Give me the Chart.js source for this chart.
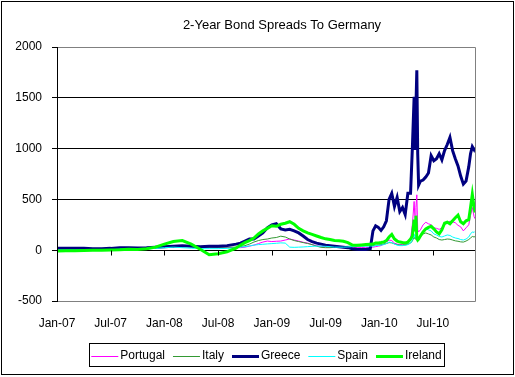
<!DOCTYPE html>
<html>
<head>
<meta charset="utf-8">
<script src="https://cdn.jsdelivr.net/npm/chart.js@4/dist/chart.umd.min.js"></script>
<style>
  html, body { margin: 0; padding: 0; background: #fff; }
  #wrap { width: 515px; height: 377px; }
</style>
</head>
<body>
<div id="wrap"><canvas id="spreads" width="515" height="377"></canvas></div>
<script>
// months since Jan-2007 (0 = Jan-07)
const months = [
  0, 1, 2, 3, 4, 5, 6, 7, 8, 9, 10, 11, 12, 13, 14, 15, 16, 17, 18, 19, 20,
  20.5, 21, 21.5, 22, 22.5, 23, 23.5, 24, 24.5, 25, 25.5, 26, 26.5, 27, 27.5,
  28, 28.5, 29, 29.5, 30, 30.5, 31, 31.5, 32, 32.5, 33, 33.5, 34, 34.5, 35,
  35.3, 35.6, 35.9, 36.2, 36.5, 36.8, 37.1, 37.4, 37.7, 38.0, 38.3, 38.6, 38.9,
  39.2, 39.5, 39.7, 39.9, 40.0, 40.1, 40.2, 40.3, 40.4, 40.6, 40.9, 41.2, 41.5,
  41.8, 42.1, 42.4, 42.7, 43.0, 43.3, 43.6, 43.9, 44.2, 44.5, 44.8, 45.1, 45.4,
  45.7, 46.0, 46.2, 46.4, 46.6, 46.7
];

// spreads in basis points
const portugal = [
  5, 5, 5, 4, 4, 5, 8, 12, 15, 15, 18, 25, 35, 40, 38, 35, 30, 32, 30, 28, 25,
  25, 30, 40, 50, 65, 80, 90, 85, 88, 90, 100, 110, 100, 90, 78,
  70, 55, 45, 38, 32, 30, 28, 28, 27, 26, 25, 25, 26, 28, 28,
  30, 35, 40, 45, 60, 80, 100, 95, 70, 60, 55, 55, 60,
  70, 110, 250, 480, 300, 420, 545, 200, 180, 200, 250, 275, 260,
  250, 220, 215, 205, 220, 250, 270, 285, 280, 270, 245, 230, 190,
  220, 250, 340, 420, 330, 310
];
const italy = [
  8, 8, 8, 8, 7, 8, 10, 15, 18, 18, 20, 25, 35, 40, 40, 35, 30, 30, 28, 30, 30,
  35, 45, 60, 80, 95, 105, 110, 120, 125, 138, 130, 110, 95, 85, 75,
  66, 55, 40, 28, 25, 25, 28, 30, 35, 38, 40, 40, 42, 44, 45,
  45, 50, 52, 55, 60, 65, 75, 72, 62, 55, 50, 50, 52,
  58, 70, 90, 130, 110, 125, 100, 90, 100, 130, 160, 170, 160,
  150, 130, 120, 105, 100, 105, 110, 108, 100, 92, 88, 82, 80,
  90, 105, 120, 135, 130, 135
];
const greece = [
  20, 20, 18, 18, 15, 15, 18, 25, 25, 22, 25, 30, 35, 40, 45, 40, 35, 40, 40, 45, 60,
  70, 90, 110, 110, 140, 170, 220, 250, 260, 210, 200, 205, 190, 170, 140,
  105, 85, 70, 60, 50, 45, 40, 35, 30, 25, 15, 10, 8, 8, 15,
  190, 240, 225, 195, 230, 290, 500, 560, 430, 520, 380, 420, 350,
  560, 560, 1000, 1510, 1000, 1400, 1770, 950, 640, 680, 690, 720, 760,
  930, 880, 900, 950, 890, 980, 1040, 1110, 980, 900, 830, 730, 650,
  680, 820, 950, 1020, 990, 1010
];
const spain = [
  2, 2, 2, 2, 2, 2, 5, 10, 10, 8, 12, 18, 25, 30, 25, 20, 15, 15, 15, 18, 22,
  30, 35, 42, 50, 55, 58, 62, 65, 68, 72, 70, 30, 28, 30, 32,
  35, 38, 40, 40, 38, 35, 30, 30, 30, 32, 35, 38, 40, 40, 42,
  40, 45, 48, 50, 55, 65, 80, 75, 60, 50, 45, 45, 48,
  55, 70, 100, 160, 120, 150, 110, 95, 110, 150, 190, 210, 200,
  190, 160, 150, 135, 130, 140, 150, 145, 130, 120, 115, 105, 100,
  110, 130, 160, 180, 175, 185
];
const ireland = [
  -8, -5, -5, -3, 0, 0, 2, 5, 10, 8, 15, 30, 60, 85, 95, 60, 10, -45, -35, -15, 20,
  50, 75, 95, 120, 160, 190, 215, 240, 235, 255, 265, 280, 255, 215, 190,
  170, 155, 140, 125, 112, 105, 95, 92, 88, 75, 50, 48, 52, 55, 58,
  60, 70, 72, 75, 80, 95, 130, 155, 110, 90, 80, 75, 72,
  80, 110, 140, 300, 200, 340, 120, 100, 110, 140, 180, 210, 225,
  235, 210, 180, 160, 200, 265, 275, 260, 290, 320, 345, 280, 260,
  290, 300, 420, 550, 420, 370
];

const seriesNames = ["Portugal", "Italy", "Greece", "Spain", "Ireland"];
const seriesColors = ["#ff00ff", "#339933", "#000080", "#00ffff", "#00ff00"];
const seriesWidths = [1, 1, 3, 1, 3];
const seriesValues = [portugal, italy, greece, spain, ireland];

const tickMonths = [0, 6, 12, 18, 24, 30, 36, 42];
const tickLabels = ["Jan-07", "Jul-07", "Jan-08", "Jul-08", "Jan-09", "Jul-09", "Jan-10", "Jul-10"];
const yTicks = [-500, 0, 500, 1000, 1500, 2000];

const FONT = "'Liberation Sans', Arial, sans-serif";

// excel-ish frame, title, zero-line ticks and boxed legend
const excelLook = {
  id: "excelLook",
  beforeDraw(chart) {
    const c = chart.ctx;
    c.save();
    c.fillStyle = "#fff";
    c.fillRect(0, 0, chart.width, chart.height);
    c.restore();
  },
  afterDraw(chart) {
    const c = chart.ctx;
    const a = chart.chartArea;
    const xs = chart.scales.x;
    const ys = chart.scales.y;
    c.save();

    // plot area border
    c.lineWidth = 1;
    c.strokeStyle = "#808080";
    c.beginPath();
    c.moveTo(a.left, a.top + 0.5);
    c.lineTo(a.right + 0.5, a.top + 0.5);
    c.lineTo(a.right + 0.5, a.bottom + 0.5);
    c.lineTo(a.left, a.bottom + 0.5);
    c.stroke();
    c.strokeStyle = "#000";
    c.beginPath();
    c.moveTo(a.left + 0.5, a.top);
    c.lineTo(a.left + 0.5, a.bottom + 1);
    c.stroke();

    // category ticks hang from the zero line
    const y0 = Math.round(ys.getPixelForValue(0)) + 0.5;
    c.beginPath();
    tickMonths.forEach((m) => {
      const px = Math.round(xs.getPixelForValue(m)) + 0.5;
      c.moveTo(px, y0);
      c.lineTo(px, y0 + 5);
    });
    c.stroke();

    // title
    c.fillStyle = "#000";
    c.font = "13px " + FONT;
    c.textAlign = "center";
    c.textBaseline = "middle";
    c.fillText("2-Year Bond Spreads To Germany", 282, 25);

    // legend
    const box = { left: 89, top: 343, right: 444, bottom: 366 };
    c.strokeStyle = "#000";
    c.strokeRect(box.left + 0.5, box.top + 0.5, box.right - box.left, box.bottom - box.top);
    c.font = "12px " + FONT;
    c.textAlign = "left";
    const lineLen = 27, gapText = 2, gapItem = 8;
    let total = 0;
    seriesNames.forEach((n, i) => {
      total += lineLen + gapText + c.measureText(n).width + (i < seriesNames.length - 1 ? gapItem : 0);
    });
    let x = (box.left + box.right) / 2 - total / 2;
    const ly = (box.top + box.bottom) / 2 + 1;
    seriesNames.forEach((n, i) => {
      c.strokeStyle = seriesColors[i];
      c.lineWidth = seriesWidths[i];
      c.beginPath();
      const yy = seriesWidths[i] % 2 ? Math.round(ly) + 0.5 : Math.round(ly);
      c.moveTo(x, yy);
      c.lineTo(x + lineLen, yy);
      c.stroke();
      c.fillStyle = "#000";
      c.fillText(n, x + lineLen + gapText, ly);
      x += lineLen + gapText + c.measureText(n).width + gapItem;
    });

    // outer frame
    c.lineWidth = 1;
    c.strokeStyle = "#000";
    c.strokeRect(1.5, 1.5, 512, 373);
    c.restore();
  }
};

const datasets = seriesNames.map((name, i) => ({
  label: name,
  data: months.map((m, k) => ({ x: m, y: seriesValues[i][k] })),
  borderColor: seriesColors[i],
  backgroundColor: seriesColors[i],
  borderWidth: seriesWidths[i],
  pointRadius: 0,
  tension: 0,
  fill: false,
  // excel draws later series on top
  order: seriesNames.length - i
}));

new Chart(document.getElementById("spreads"), {
  type: "line",
  data: { datasets },
  plugins: [excelLook],
  options: {
    responsive: false,
    animation: false,
    events: [],
    layout: { padding: { left: 0, top: 47, right: 40, bottom: 0 } },
    plugins: {
      legend: { display: false },
      title: { display: false },
      tooltip: { enabled: false }
    },
    scales: {
      x: {
        type: "linear",
        min: 0,
        max: 46.7,
        afterBuildTicks: (s) => { s.ticks = tickMonths.map((v) => ({ value: v })); },
        afterFit: (s) => { s.height = 76; },
        grid: { display: false, drawTicks: false },
        border: { display: false },
        ticks: {
          autoSkip: false,
          maxRotation: 0,
          padding: 15,
          color: "#000",
          font: { family: FONT, size: 12 },
          callback: (v) => tickLabels[tickMonths.indexOf(v)]
        }
      },
      y: {
        min: -500,
        max: 2000,
        afterBuildTicks: (s) => { s.ticks = yTicks.map((v) => ({ value: v })); },
        afterFit: (s) => { s.width = 57; },
        grid: {
          color: (ctx) => (ctx.tick && (ctx.tick.value === 2000 || ctx.tick.value === -500)) ? "#808080" : "#000",
          tickColor: "#000",
          tickLength: 5,
          lineWidth: 1
        },
        border: { color: "#000", width: 1 },
        ticks: {
          padding: 10,
          color: "#000",
          font: { family: FONT, size: 12 },
          callback: (v) => String(v)
        }
      }
    }
  }
});
</script>
</body>
</html>
